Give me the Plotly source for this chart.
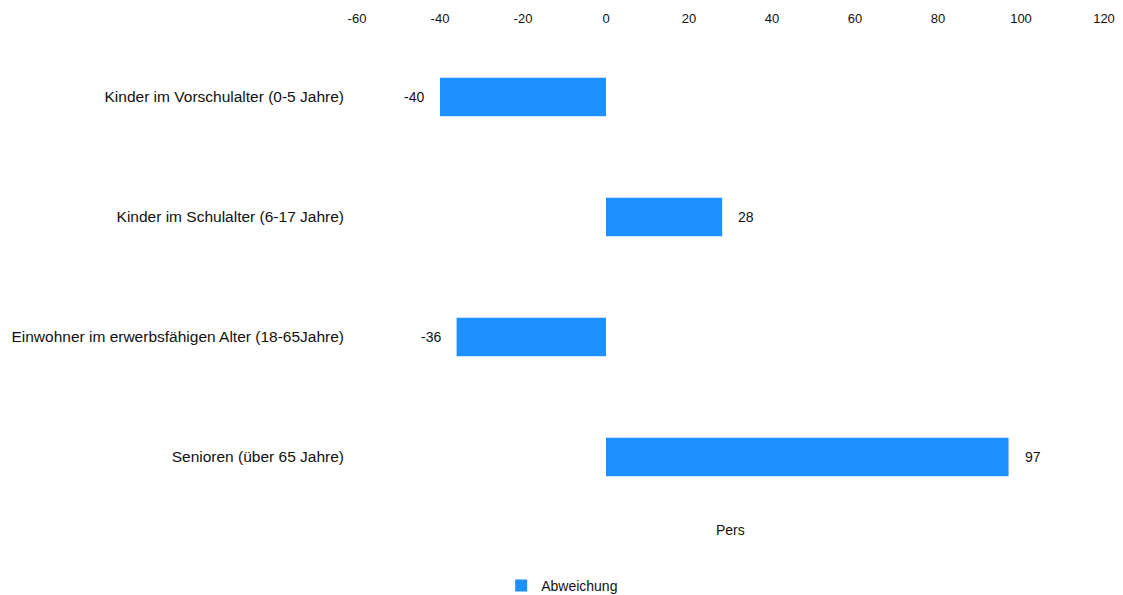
import plotly.graph_objects as go

categories = [
    "Kinder im Vorschulalter (0-5 Jahre)",
    "Kinder im Schulalter (6-17 Jahre)",
    "Einwohner im erwerbsfähigen Alter (18-65Jahre)",
    "Senioren (über 65 Jahre)",
]
values = [-40, 28, -36, 97]
series_name = "Abweichung"
x_ticks = [-60, -40, -20, 0, 20, 40, 60, 80, 100, 120]
x_tick_labels = [str(t) for t in x_ticks]
axis_title = "Pers"

FONT = "Liberation Sans, Arial, sans-serif"
BLUE = "#1E90FF"
TXT = "#111111"

# page body has an 8px default margin; figure sized to fit the window
W, H = 1115, 587

fig = go.Figure()
fig.add_trace(go.Bar(
    y=categories,
    x=values,
    orientation="h",
    name=series_name,
    marker=dict(color=BLUE, line=dict(width=0)),
    width=0.32,
    showlegend=True,
))

for c, v in zip(categories, values):
    fig.add_annotation(
        x=v, y=c, xref="x", yref="y",
        text=str(v), showarrow=False,
        xanchor="left" if v >= 0 else "right",
        xshift=14 if v >= 0 else -14,
        font=dict(family=FONT, size=14, color=TXT),
    )

fig.add_annotation(
    x=0.5, y=-0.027, xref="paper", yref="paper",
    text=axis_title, showarrow=False, yanchor="middle",
    font=dict(family=FONT, size=14, color=TXT),
)

fig.update_layout(
    width=W, height=H,
    paper_bgcolor="white", plot_bgcolor="white",
    margin=dict(l=349, r=19, t=29, b=78),
    font=dict(family=FONT, size=14, color=TXT),
    xaxis=dict(
        side="top", range=[-60, 120], tickvals=x_ticks, ticktext=x_tick_labels,
        showgrid=False, zeroline=False, showline=False,
        ticks="", ticklabelstandoff=10, tickfont=dict(size=13, color=TXT),
        automargin=False, fixedrange=True,
    ),
    yaxis=dict(
        autorange="reversed", showgrid=False, zeroline=False, showline=False,
        ticks="", ticklabelstandoff=12, automargin=False,
        tickfont=dict(size=15.5, color=TXT),
    ),
    legend=dict(
        orientation="h", x=0.193, xanchor="left",
        yref="container", y=1 - 578 / H, yanchor="middle",
        font=dict(family=FONT, size=14, color=TXT),
        itemwidth=30,
    ),
    bargap=0.68,
)

fig.write_html("out.html")
